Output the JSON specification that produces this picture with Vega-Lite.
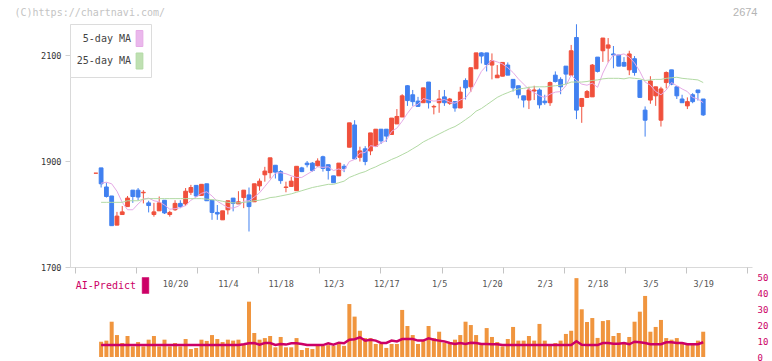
{
"$schema": "https://vega.github.io/schema/vega-lite/v6.json",
"width": 682, "height": 361,
"autosize": {"type": "none"},
"padding": {"left": 70, "top": 0, "right": 20, "bottom": 0},
"background": "white",
"config": {"view": {"stroke": null}, "font": "DejaVu Sans Mono", "axis": {"grid": false}},
"data": {"values": [
{"i":0,"d":"2025-09-26","o":1877,"h":1877,"l":1877,"c":1877},
{"i":1,"d":"2025-09-29","o":1887,"h":1887,"l":1850,"c":1857,"m5":1858,"m25":1822,"v":9.6,"ai":7.5},
{"i":2,"d":"2025-09-30","o":1851,"h":1859,"l":1831,"c":1833,"m5":1860,"m25":1822,"v":10.3,"ai":7.5},
{"i":3,"d":"2025-10-01","o":1834,"h":1834,"l":1778,"c":1778,"m5":1857,"m25":1822,"v":22.2,"ai":7.5},
{"i":4,"d":"2025-10-02","o":1779,"h":1804,"l":1779,"c":1796,"m5":1843,"m25":1822,"v":13.8,"ai":7.5},
{"i":5,"d":"2025-10-03","o":1799,"h":1815,"l":1799,"c":1804,"m5":1822,"m25":1822,"v":8.8,"ai":7.5},
{"i":6,"d":"2025-10-06","o":1814,"h":1834,"l":1814,"c":1830,"m5":1808,"m25":1825,"v":13.2,"ai":7.5},
{"i":7,"d":"2025-10-07","o":1845,"h":1845,"l":1821,"c":1833,"m5":1808,"m25":1825,"v":6.7,"ai":7.5},
{"i":8,"d":"2025-10-08","o":1845,"h":1849,"l":1826,"c":1832,"m5":1819,"m25":1825,"v":9.4,"ai":7.5},
{"i":9,"d":"2025-10-09","o":1840,"h":1845,"l":1820,"c":1841,"m5":1828,"m25":1828,"v":6.7,"ai":7.5},
{"i":10,"d":"2025-10-10","o":1821,"h":1825,"l":1803,"c":1816,"m5":1830,"m25":1829,"v":10.9,"ai":7.5},
{"i":11,"d":"2025-10-14","o":1799,"h":1821,"l":1795,"c":1804,"m5":1825,"m25":1829,"v":13.2,"ai":7.5},
{"i":12,"d":"2025-10-15","o":1806,"h":1833,"l":1806,"c":1821,"m5":1823,"m25":1829,"v":6.7,"ai":7.5},
{"i":13,"d":"2025-10-16","o":1826,"h":1826,"l":1800,"c":1802,"m5":1817,"m25":1829,"v":10.9,"ai":7.5},
{"i":14,"d":"2025-10-17","o":1799,"h":1806,"l":1795,"c":1803,"m5":1809,"m25":1829,"v":6.7,"ai":7.5},
{"i":15,"d":"2025-10-20","o":1808,"h":1826,"l":1806,"c":1820,"m5":1810,"m25":1829,"v":8.8,"ai":7.5},
{"i":16,"d":"2025-10-21","o":1820,"h":1826,"l":1811,"c":1814,"m5":1812,"m25":1829,"v":6.7,"ai":7.5},
{"i":17,"d":"2025-10-22","o":1819,"h":1849,"l":1815,"c":1843,"m5":1816,"m25":1829,"v":11.3,"ai":7.5},
{"i":18,"d":"2025-10-23","o":1841,"h":1855,"l":1836,"c":1850,"m5":1826,"m25":1829,"v":5.0,"ai":7.5},
{"i":19,"d":"2025-10-24","o":1854,"h":1854,"l":1832,"c":1834,"m5":1832,"m25":1829,"v":5.7,"ai":7.5},
{"i":20,"d":"2025-10-27","o":1835,"h":1856,"l":1834,"c":1856,"m5":1839,"m25":1829,"v":10.9,"ai":7.5},
{"i":21,"d":"2025-10-28","o":1857,"h":1857,"l":1825,"c":1825,"m5":1842,"m25":1828,"v":10.1,"ai":7.5},
{"i":22,"d":"2025-10-29","o":1826,"h":1826,"l":1789,"c":1803,"m5":1834,"m25":1827,"v":13.8,"ai":7.5},
{"i":23,"d":"2025-10-30","o":1803,"h":1817,"l":1789,"c":1800,"m5":1824,"m25":1826,"v":11.3,"ai":7.5},
{"i":24,"d":"2025-10-31","o":1789,"h":1806,"l":1789,"c":1806,"m5":1818,"m25":1824,"v":9.4,"ai":7.5},
{"i":25,"d":"2025-11-04","o":1808,"h":1825,"l":1799,"c":1825,"m5":1812,"m25":1822,"v":10.9,"ai":7.5},
{"i":26,"d":"2025-11-05","o":1830,"h":1830,"l":1805,"c":1820,"m5":1811,"m25":1821,"v":10.3,"ai":7.5},
{"i":27,"d":"2025-11-06","o":1819,"h":1843,"l":1819,"c":1823,"m5":1815,"m25":1821,"v":10.9,"ai":7.5},
{"i":28,"d":"2025-11-07","o":1831,"h":1845,"l":1811,"c":1845,"m5":1824,"m25":1822,"v":8.2,"ai":8.0},
{"i":29,"d":"2025-11-10","o":1836,"h":1850,"l":1767,"c":1814,"m5":1825,"m25":1823,"v":34.8,"ai":8.6},
{"i":30,"d":"2025-11-11","o":1823,"h":1857,"l":1823,"c":1857,"m5":1832,"m25":1825,"v":15.1,"ai":8.8},
{"i":31,"d":"2025-11-12","o":1853,"h":1867,"l":1844,"c":1862,"m5":1840,"m25":1826,"v":10.9,"ai":7.8},
{"i":32,"d":"2025-11-13","o":1874,"h":1889,"l":1861,"c":1881,"m5":1852,"m25":1828,"v":11.9,"ai":8.8},
{"i":33,"d":"2025-11-14","o":1878,"h":1906,"l":1867,"c":1906,"m5":1864,"m25":1831,"v":13.2,"ai":8.8},
{"i":34,"d":"2025-11-17","o":1892,"h":1892,"l":1867,"c":1879,"m5":1877,"m25":1832,"v":6.1,"ai":7.6},
{"i":35,"d":"2025-11-18","o":1880,"h":1883,"l":1857,"c":1863,"m5":1878,"m25":1834,"v":12.6,"ai":8.2},
{"i":36,"d":"2025-11-19","o":1850,"h":1861,"l":1841,"c":1851,"m5":1876,"m25":1836,"v":6.1,"ai":7.8},
{"i":37,"d":"2025-11-20","o":1852,"h":1870,"l":1852,"c":1862,"m5":1872,"m25":1838,"v":6.1,"ai":8.6},
{"i":38,"d":"2025-11-21","o":1844,"h":1890,"l":1844,"c":1890,"m5":1869,"m25":1841,"v":11.9,"ai":8.6},
{"i":39,"d":"2025-11-25","o":1887,"h":1889,"l":1879,"c":1880,"m5":1869,"m25":1844,"v":4.4,"ai":8.2},
{"i":40,"d":"2025-11-26","o":1896,"h":1900,"l":1888,"c":1893,"m5":1875,"m25":1847,"v":5.7,"ai":7.5},
{"i":41,"d":"2025-11-27","o":1896,"h":1898,"l":1880,"c":1882,"m5":1881,"m25":1850,"v":5.0,"ai":7.5},
{"i":42,"d":"2025-11-28","o":1891,"h":1905,"l":1889,"c":1900,"m5":1889,"m25":1852,"v":7.5,"ai":7.5},
{"i":43,"d":"2025-12-01","o":1908,"h":1910,"l":1880,"c":1886,"m5":1888,"m25":1854,"v":7.0,"ai":7.5},
{"i":44,"d":"2025-12-02","o":1893,"h":1893,"l":1865,"c":1882,"m5":1889,"m25":1856,"v":7.5,"ai":8.6},
{"i":45,"d":"2025-12-03","o":1872,"h":1872,"l":1859,"c":1859,"m5":1882,"m25":1856,"v":7.0,"ai":7.8},
{"i":46,"d":"2025-12-04","o":1872,"h":1896,"l":1872,"c":1896,"m5":1885,"m25":1859,"v":8.5,"ai":9.0},
{"i":47,"d":"2025-12-05","o":1890,"h":1894,"l":1879,"c":1886,"m5":1882,"m25":1862,"v":7.0,"ai":8.6},
{"i":48,"d":"2025-12-08","o":1926,"h":1972,"l":1926,"c":1972,"m5":1899,"m25":1869,"v":33.3,"ai":10.9},
{"i":49,"d":"2025-12-09","o":1968,"h":1977,"l":1904,"c":1904,"m5":1903,"m25":1873,"v":25.4,"ai":11.2},
{"i":50,"d":"2025-12-10","o":1907,"h":1927,"l":1899,"c":1919,"m5":1915,"m25":1877,"v":16.5,"ai":12.4},
{"i":51,"d":"2025-12-11","o":1923,"h":1928,"l":1892,"c":1899,"m5":1916,"m25":1880,"v":11.9,"ai":10.3},
{"i":52,"d":"2025-12-12","o":1919,"h":1953,"l":1911,"c":1953,"m5":1929,"m25":1885,"v":11.9,"ai":10.8},
{"i":53,"d":"2025-12-15","o":1928,"h":1960,"l":1928,"c":1960,"m5":1927,"m25":1889,"v":8.2,"ai":10.3},
{"i":54,"d":"2025-12-16","o":1960,"h":1960,"l":1932,"c":1938,"m5":1934,"m25":1894,"v":8.2,"ai":8.8},
{"i":55,"d":"2025-12-17","o":1960,"h":1960,"l":1936,"c":1947,"m5":1939,"m25":1898,"v":5.7,"ai":8.8},
{"i":56,"d":"2025-12-18","o":1950,"h":1981,"l":1950,"c":1981,"m5":1956,"m25":1903,"v":8.2,"ai":10.3},
{"i":57,"d":"2025-12-19","o":1970,"h":1998,"l":1970,"c":1984,"m5":1962,"m25":1907,"v":8.2,"ai":9.8},
{"i":58,"d":"2025-12-22","o":1983,"h":2026,"l":1983,"c":2023,"m5":1975,"m25":1912,"v":29.6,"ai":11.3},
{"i":59,"d":"2025-12-23","o":2042,"h":2043,"l":2004,"c":2014,"m5":1990,"m25":1917,"v":19.5,"ai":11.3},
{"i":60,"d":"2025-12-24","o":2025,"h":2034,"l":2004,"c":2012,"m5":2003,"m25":1923,"v":13.8,"ai":11.3},
{"i":61,"d":"2025-12-25","o":2013,"h":2021,"l":2003,"c":2003,"m5":2007,"m25":1929,"v":8.2,"ai":10.3},
{"i":62,"d":"2025-12-26","o":2010,"h":2038,"l":2010,"c":2038,"m5":2018,"m25":1936,"v":10.3,"ai":10.3},
{"i":63,"d":"2025-12-29","o":2049,"h":2049,"l":1999,"c":2010,"m5":2015,"m25":1941,"v":19.5,"ai":11.7},
{"i":64,"d":"2025-12-30","o":2002,"h":2006,"l":1988,"c":2003,"m5":2013,"m25":1946,"v":11.9,"ai":10.8},
{"i":65,"d":"2026-01-05","o":2010,"h":2034,"l":1991,"c":2017,"m5":2014,"m25":1951,"v":15.9,"ai":10.3},
{"i":66,"d":"2026-01-06","o":2021,"h":2034,"l":2004,"c":2010,"m5":2016,"m25":1956,"v":8.8,"ai":9.8},
{"i":67,"d":"2026-01-07","o":2009,"h":2019,"l":2006,"c":2017,"m5":2011,"m25":1961,"v":8.2,"ai":8.8},
{"i":68,"d":"2026-01-08","o":2012,"h":2013,"l":1993,"c":2000,"m5":2009,"m25":1965,"v":10.9,"ai":8.2},
{"i":69,"d":"2026-01-09","o":2000,"h":2040,"l":2000,"c":2030,"m5":2015,"m25":1971,"v":13.8,"ai":8.8},
{"i":70,"d":"2026-01-13","o":2052,"h":2056,"l":2016,"c":2038,"m5":2019,"m25":1978,"v":22.2,"ai":8.2},
{"i":71,"d":"2026-01-14","o":2040,"h":2076,"l":2030,"c":2076,"m5":2032,"m25":1985,"v":20.1,"ai":9.0},
{"i":72,"d":"2026-01-15","o":2074,"h":2104,"l":2074,"c":2104,"m5":2050,"m25":1994,"v":13.8,"ai":8.8},
{"i":73,"d":"2026-01-16","o":2104,"h":2105,"l":2084,"c":2098,"m5":2069,"m25":1999,"v":8.2,"ai":8.2},
{"i":74,"d":"2026-01-19","o":2104,"h":2104,"l":2069,"c":2082,"m5":2080,"m25":2006,"v":18.2,"ai":8.2},
{"i":75,"d":"2026-01-20","o":2081,"h":2103,"l":2054,"c":2089,"m5":2090,"m25":2013,"v":12.6,"ai":8.0},
{"i":76,"d":"2026-01-21","o":2057,"h":2081,"l":2057,"c":2062,"m5":2087,"m25":2020,"v":9.4,"ai":8.0},
{"i":77,"d":"2026-01-22","o":2060,"h":2086,"l":2060,"c":2086,"m5":2083,"m25":2025,"v":6.7,"ai":7.5},
{"i":78,"d":"2026-01-23","o":2081,"h":2086,"l":2062,"c":2062,"m5":2076,"m25":2029,"v":11.3,"ai":7.5},
{"i":79,"d":"2026-01-26","o":2054,"h":2054,"l":2031,"c":2038,"m5":2067,"m25":2033,"v":18.9,"ai":7.5},
{"i":80,"d":"2026-01-27","o":2042,"h":2042,"l":2018,"c":2025,"m5":2055,"m25":2036,"v":10.3,"ai":7.5},
{"i":81,"d":"2026-01-28","o":2023,"h":2023,"l":2001,"c":2015,"m5":2045,"m25":2037,"v":10.3,"ai":7.5},
{"i":82,"d":"2026-01-29","o":2015,"h":2040,"l":1998,"c":2034,"m5":2035,"m25":2039,"v":13.2,"ai":7.5},
{"i":83,"d":"2026-01-30","o":2032,"h":2042,"l":2015,"c":2034,"m5":2029,"m25":2040,"v":10.3,"ai":7.5},
{"i":84,"d":"2026-02-02","o":2034,"h":2037,"l":1999,"c":2006,"m5":2023,"m25":2040,"v":20.8,"ai":7.5},
{"i":85,"d":"2026-02-03","o":2013,"h":2025,"l":2006,"c":2010,"m5":2020,"m25":2040,"v":10.3,"ai":7.5},
{"i":86,"d":"2026-02-04","o":2010,"h":2050,"l":2004,"c":2048,"m5":2026,"m25":2041,"v":7.0,"ai":7.5},
{"i":87,"d":"2026-02-05","o":2062,"h":2069,"l":2048,"c":2050,"m5":2030,"m25":2042,"v":8.8,"ai":7.5},
{"i":88,"d":"2026-02-06","o":2054,"h":2058,"l":2026,"c":2040,"m5":2031,"m25":2043,"v":10.3,"ai":7.5},
{"i":89,"d":"2026-02-09","o":2079,"h":2079,"l":2045,"c":2064,"m5":2042,"m25":2045,"v":14.5,"ai":7.5},
{"i":90,"d":"2026-02-10","o":2062,"h":2119,"l":2062,"c":2108,"m5":2062,"m25":2049,"v":16.5,"ai":7.5},
{"i":91,"d":"2026-02-12","o":2133,"h":2158,"l":1979,"c":1996,"m5":2052,"m25":2049,"v":49.6,"ai":9.9},
{"i":92,"d":"2026-02-13","o":2003,"h":2018,"l":1972,"c":2018,"m5":2045,"m25":2049,"v":30.0,"ai":7.7},
{"i":93,"d":"2026-02-16","o":2020,"h":2034,"l":2020,"c":2031,"m5":2043,"m25":2050,"v":22.0,"ai":7.5},
{"i":94,"d":"2026-02-17","o":2021,"h":2083,"l":2021,"c":2081,"m5":2047,"m25":2052,"v":24.5,"ai":7.5},
{"i":95,"d":"2026-02-18","o":2096,"h":2096,"l":2067,"c":2069,"m5":2039,"m25":2053,"v":12.0,"ai":7.5},
{"i":96,"d":"2026-02-19","o":2108,"h":2132,"l":2087,"c":2132,"m5":2066,"m25":2055,"v":22.6,"ai":8.8},
{"i":97,"d":"2026-02-20","o":2113,"h":2132,"l":2086,"c":2119,"m5":2086,"m25":2056,"v":23.2,"ai":8.8},
{"i":98,"d":"2026-02-24","o":2102,"h":2117,"l":2075,"c":2100,"m5":2100,"m25":2056,"v":13.2,"ai":8.3},
{"i":99,"d":"2026-02-25","o":2100,"h":2100,"l":2079,"c":2079,"m5":2100,"m25":2056,"v":15.1,"ai":8.3},
{"i":100,"d":"2026-02-26","o":2086,"h":2096,"l":2078,"c":2079,"m5":2102,"m25":2055,"v":8.2,"ai":8.8},
{"i":101,"d":"2026-02-27","o":2072,"h":2108,"l":2062,"c":2102,"m5":2096,"m25":2057,"v":12.6,"ai":8.0},
{"i":102,"d":"2026-03-02","o":2093,"h":2098,"l":2061,"c":2067,"m5":2085,"m25":2056,"v":22.2,"ai":9.6},
{"i":103,"d":"2026-03-03","o":2052,"h":2052,"l":2020,"c":2020,"m5":2069,"m25":2055,"v":28.5,"ai":9.3},
{"i":104,"d":"2026-03-04","o":1996,"h":2003,"l":1946,"c":1977,"m5":2049,"m25":2052,"v":38.4,"ai":8.8},
{"i":105,"d":"2026-03-05","o":2015,"h":2060,"l":2008,"c":2051,"m5":2043,"m25":2053,"v":15.9,"ai":8.0},
{"i":106,"d":"2026-03-06","o":2023,"h":2040,"l":2004,"c":2040,"m5":2031,"m25":2054,"v":18.9,"ai":8.0},
{"i":107,"d":"2026-03-09","o":1977,"h":2040,"l":1965,"c":2036,"m5":2025,"m25":2054,"v":23.3,"ai":8.0},
{"i":108,"d":"2026-03-10","o":2048,"h":2069,"l":2037,"c":2067,"m5":2034,"m25":2056,"v":11.9,"ai":9.3},
{"i":109,"d":"2026-03-11","o":2072,"h":2072,"l":2043,"c":2045,"m5":2048,"m25":2057,"v":10.9,"ai":9.3},
{"i":110,"d":"2026-03-12","o":2040,"h":2040,"l":2017,"c":2023,"m5":2042,"m25":2058,"v":11.9,"ai":8.8},
{"i":111,"d":"2026-03-13","o":2017,"h":2025,"l":2010,"c":2010,"m5":2036,"m25":2056,"v":9.2,"ai":8.8},
{"i":112,"d":"2026-03-16","o":2004,"h":2020,"l":1998,"c":2012,"m5":2031,"m25":2055,"v":8.2,"ai":8.0},
{"i":113,"d":"2026-03-17","o":2025,"h":2028,"l":2009,"c":2012,"m5":2020,"m25":2054,"v":8.2,"ai":8.0},
{"i":114,"d":"2026-03-18","o":2034,"h":2034,"l":2014,"c":2029,"m5":2017,"m25":2053,"v":10.3,"ai":8.0},
{"i":115,"d":"2026-03-19","o":2017,"h":2017,"l":1985,"c":1987,"m5":2010,"m25":2048,"v":15.9,"ai":9.3}
]},
"layer": [
{
"encoding": {
  "x": {"field": "i", "type": "quantitative",
    "scale": {"domain": [-3.944, 123.29], "nice": false, "zero": false},
    "axis": {"orient": "bottom", "values": [15,25,35,45,55,65,75,85,95,105,115],
      "labelExpr": "['10/20','11/4','11/18','12/3','12/17','1/5','1/20','2/3','2/18','3/5','3/19'][round((datum.value-15)/10)]",
      "offset": -94, "ticks": false, "labelPadding": 12, "domainColor": "#d9d9d9",
      "labelFont": "DejaVu Sans Mono", "labelFontSize": 8.5, "labelColor": "#555555",
      "labelFlush": false, "title": null, "grid": false}}
},
"layer": [
  {"mark": {"type": "rule", "strokeWidth": 1},
   "encoding": {
     "y": {"field": "l", "type": "quantitative",
       "scale": {"domain": [1700, 2158.5], "range": [267, 24], "nice": false, "zero": false},
       "axis": {"values": [1700, 1900, 2100], "format": "d", "title": "(C)https://chartnavi.com/",
         "titleAngle": 0, "titleAlign": "left", "titleBaseline": "middle", "titleX": -56, "titleY": 12,
         "titleFont": "DejaVu Sans Mono", "titleFontSize": 10, "titleFontWeight": "normal", "titleColor": "#c4c4c4",
         "labelFont": "DejaVu Sans Mono", "labelFontSize": 8.5, "labelColor": "#333333",
         "tickColor": "#d0d0d0", "tickSize": 5, "domainColor": "#d9d9d9", "labelPadding": 4, "grid": false}},
     "y2": {"field": "h"},
     "color": {"condition": {"test": "datum.c >= datum.o", "value": "#f0503c"}, "value": "#4080f0"}
   }},
  {"mark": {"type": "bar", "width": 3.8, "strokeWidth": 1},
   "encoding": {
     "y": {"field": "o", "type": "quantitative"},
     "y2": {"field": "c"},
     "color": {"condition": {"test": "datum.c >= datum.o", "value": "#f0503c"}, "value": "#4080f0"},
     "stroke": {"condition": {"test": "datum.c >= datum.o", "value": "#f0503c"}, "value": "#4080f0"}
   }},
  {"mark": {"type": "line", "strokeWidth": 1},
   "encoding": {
     "y": {"field": "m5", "type": "quantitative"},
     "color": {"datum": "5-day MA",
       "scale": {"domain": ["5-day MA", "25-day MA"], "range": ["#e6aae6", "#b2daa4"]},
       "legend": {"orient": "none", "legendX": 0, "legendY": 24, "title": null, "direction": "vertical",
         "symbolType": "M-0.42,-1H0.42V1H-0.42Z", "symbolSize": 256, "symbolOffset": 55, "labelOffset": -17,
         "labelAlign": "right", "labelFont": "DejaVu Sans Mono", "labelFontSize": 10, "labelColor": "#444444",
         "padding": 6, "rowPadding": 1.5, "strokeColor": "#dcdcdc", "fillColor": "white",
         "encode": {"symbols": {"update": {
           "fill": {"signal": "datum.value === '5-day MA' ? '#eab8ec' : '#bfe0b2'"},
           "stroke": {"value": "#666666"}, "strokeWidth": {"value": 1}, "opacity": {"value": 1}}}}}}
   }},
  {"mark": {"type": "line", "strokeWidth": 1},
   "encoding": {
     "y": {"field": "m25", "type": "quantitative"},
     "color": {"datum": "25-day MA"}
   }}
]
},
{
"encoding": {
  "x": {"field": "i", "type": "quantitative",
    "scale": {"domain": [-3.944, 123.29], "nice": false, "zero": false},
    "axis": {"orient": "bottom", "values": [-3.94, 7.623, 19.19, 30.757, 42.324, 53.891, 65.458, 77.025, 88.592, 100.159, 111.726, 123.29],
      "labels": false, "domain": false, "ticks": true, "tickSize": 6, "tickColor": "#c4c4c4", "tickWidth": 1, "tickOpacity": 1,
      "offset": -94, "title": null, "grid": false, "zindex": 1}}
},
"layer": [
  {"mark": {"type": "bar", "width": 4, "color": "#f0953e"},
   "encoding": {
     "y": {"field": "v", "type": "quantitative",
       "scale": {"domain": [0, 50], "range": [357, 277.5], "nice": false},
       "axis": {"orient": "right", "values": [0, 10, 20, 30, 40, 50], "title": "2674",
         "titleAngle": 0, "titleAlign": "right", "titleBaseline": "middle", "titleX": 5, "titleY": 12,
         "titleFont": "Liberation Sans", "titleFontSize": 11, "titleFontWeight": "normal", "titleColor": "#b4b4b4",
         "labelColor": "#cc0066", "labelFont": "DejaVu Sans Mono", "labelFontSize": 9, "labelPadding": 5,
         "ticks": false, "tickSize": 0, "domain": false, "grid": false, "labelFlush": false}}
   }},
  {"mark": {"type": "line", "strokeWidth": 2.5},
   "encoding": {
     "y": {"field": "ai", "type": "quantitative"},
     "color": {"datum": "AI-Predict", "scale": {"domain": ["AI-Predict"], "range": ["#cc0066"]},
       "legend": {"orient": "none", "legendX": 0, "legendY": 277, "title": null, "direction": "vertical",
         "symbolType": "M-0.42,-1H0.42V1H-0.42Z", "symbolSize": 256, "symbolOffset": 67, "labelOffset": -18,
         "labelAlign": "right", "labelFont": "DejaVu Sans Mono", "labelFontSize": 10, "labelColor": "#cc0066",
         "padding": 0,
         "encode": {"symbols": {"update": {
           "fill": {"value": "#cc0066"}, "stroke": {"value": "#cc0066"}, "strokeWidth": {"value": 0.5}, "opacity": {"value": 1}}}}}}
   }}
]
}
],
"resolve": {"scale": {"x": "independent", "y": "independent", "color": "independent"}, "axis": {"x": "independent"}}
}
